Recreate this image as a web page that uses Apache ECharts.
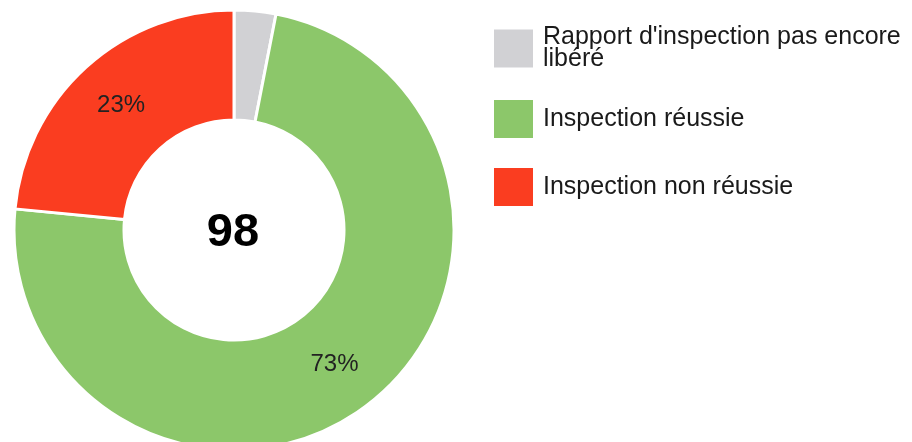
<!DOCTYPE html>
<html>
<head>
<meta charset="utf-8">
<script src="https://cdn.jsdelivr.net/npm/echarts@6/dist/echarts.min.js"></script>
<style>
  html, body { margin: 0; padding: 0; background: #fff; }
  #chart { width: 912px; height: 442px; }
</style>
</head>
<body>
<div id="chart"></div>
<script>
const categories = ["Rapport d'inspection pas encore\nlibéré", 'Inspection réussie', 'Inspection non réussie'];
const values = [3, 72, 23];
const colors = ['#d1d1d4', '#8cc76a', '#fa3d20'];
const total = values.reduce((a, b) => a + b, 0);

const chartDom = document.getElementById('chart');
const myChart = echarts.init(chartDom);
const option = {
  animation: false,
  color: colors,
  graphic: [{
    type: 'text',
    x: 233,
    y: 233,
    style: {
      text: String(total),
      font: 'bold 47px "Liberation Sans", Arial, sans-serif',
      fill: '#000',
      align: 'center',
      verticalAlign: 'middle'
    }
  }],
  legend: {
    orient: 'vertical',
    left: 487,
    top: 20,
    icon: 'rect',
    itemWidth: 41,
    itemHeight: 40,
    itemGap: 26,
    data: categories,
    textStyle: {
      fontFamily: '"Liberation Sans", Arial, sans-serif',
      fontSize: 25,
      lineHeight: 22,
      color: '#1a1a1a',
      padding: [0, 0, 0, 4]
    }
  },
  series: [
    {
      type: 'pie',
      center: [234, 230],
      radius: [110, 220],
      startAngle: 90,
      clockwise: true,
      silent: true,
      itemStyle: {
        borderColor: '#fff',
        borderWidth: 3
      },
      label: {
        position: 'inside',
        fontFamily: '"Liberation Sans", Arial, sans-serif',
        fontSize: 24,
        color: '#222',
        formatter: p => (p.value / total < 0.05 ? '' : Math.round(p.value / total * 100) + '%')
      },
      labelLine: { show: false },
      data: categories.map((c, i) => ({ name: c, value: values[i] }))
    }
  ]
};

option && myChart.setOption(option);
</script>
</body>
</html>
